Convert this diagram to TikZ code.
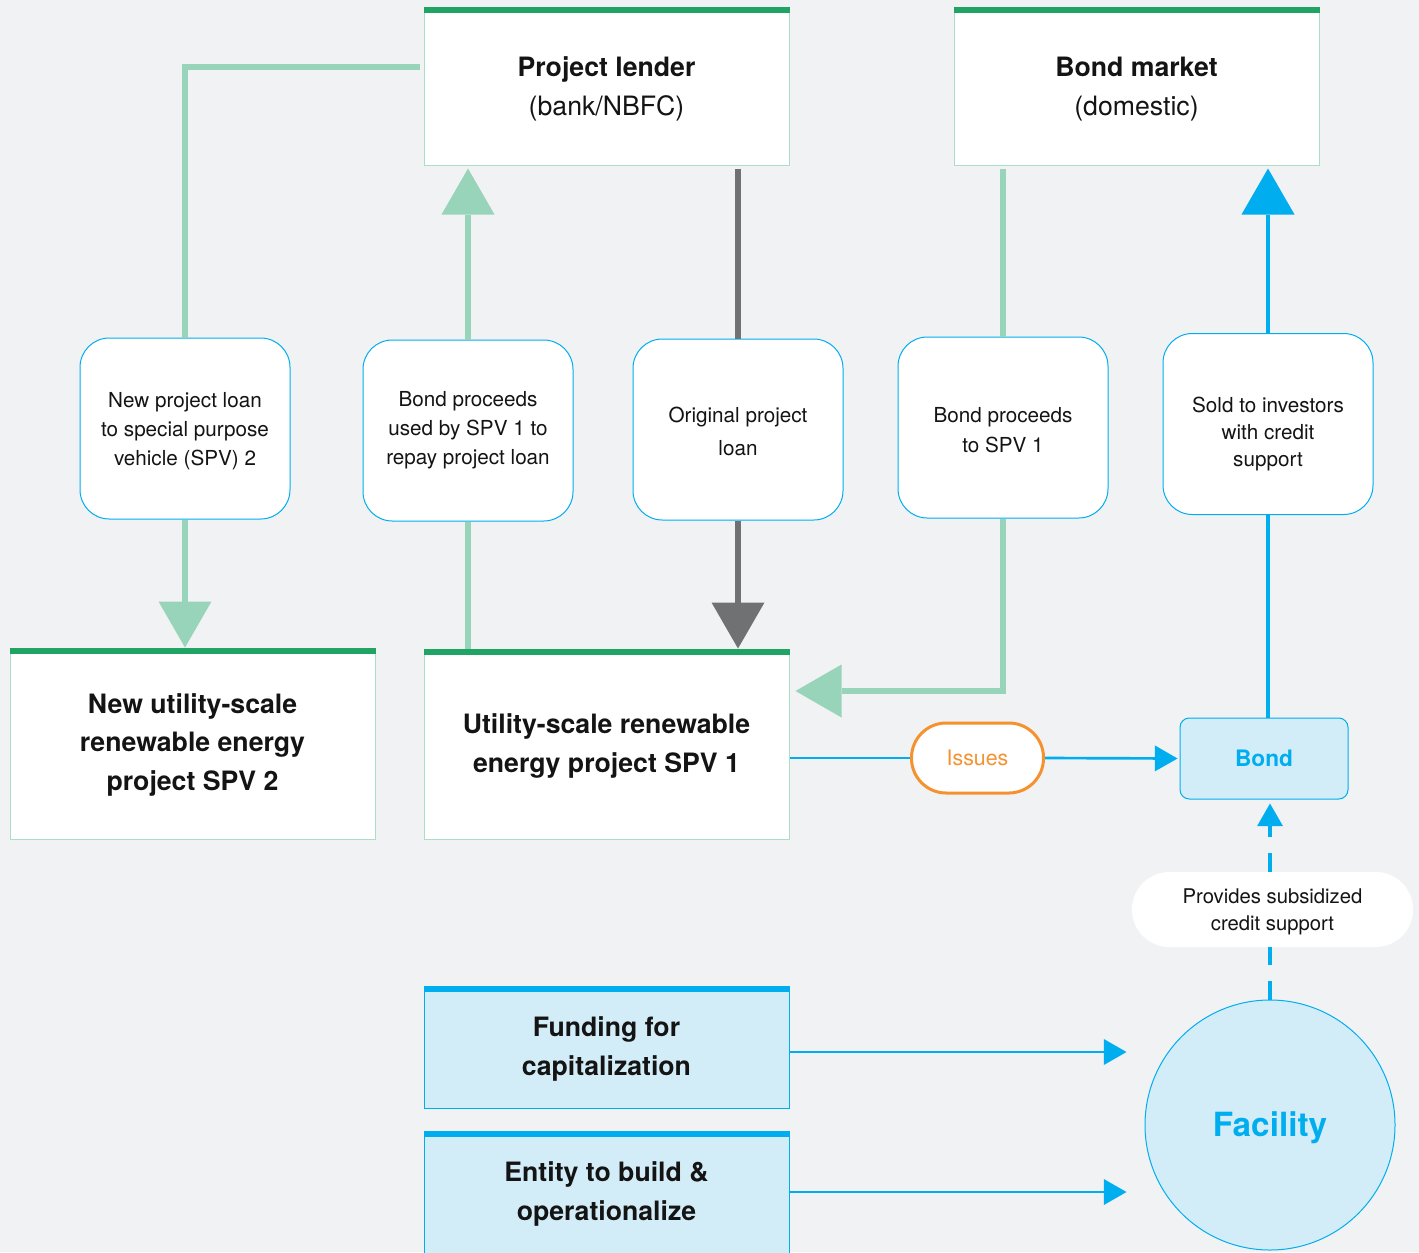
\documentclass[tikz,border=0pt]{standalone}
\usepackage{fontspec}
\setmainfont{TeX Gyre Heros}
\usetikzlibrary{arrows.meta}
\definecolor{bgcol}{RGB}{241,242,244}
\definecolor{darkgreen}{RGB}{31,164,99}
\definecolor{paleline}{RGB}{152,212,186}
\definecolor{paleedge}{RGB}{170,222,198}
\definecolor{flowblue}{RGB}{0,174,239}
\definecolor{iceblue}{RGB}{211,237,248}
\definecolor{loangray}{RGB}{112,113,114}
\definecolor{issueorange}{RGB}{245,146,47}
\definecolor{inktext}{RGB}{20,20,20}
\begin{document}
\begin{tikzpicture}[x=0.75pt, y=-0.75pt,
  every node/.style={text=inktext, align=center, inner sep=0pt},
  party/.style={draw=paleedge, line width=0.75pt, fill=white, minimum width=273.75pt, font=\fontsize{20}{29}\selectfont},
  fundbox/.style={draw=flowblue, line width=0.75pt, fill=iceblue, minimum width=273.75pt, minimum height=91.5pt, font=\fontsize{20}{29}\selectfont\bfseries},
  flowlabel/.style={draw=flowblue, line width=0.75pt, fill=white, rounded corners=22pt, minimum width=157.5pt, minimum height=135.75pt, font=\fontsize{15.5}{21.75}\selectfont},
  paleflow/.style={draw=paleline, line width=4.5pt},
  grayflow/.style={draw=loangray, line width=4.5pt},
  blueflow/.style={draw=flowblue, line width=3pt},
  thinflow/.style={draw=flowblue, line width=2pt},
  creditdash/.style={dash pattern=on 14pt off 12pt},
  bigtip/.style={-{Triangle[length=34.5pt, width=39.75pt, line width=0pt]}},
  smalltip/.style={-{Triangle[length=17pt, width=19.5pt, line width=0pt]}},
  topbar/.style={line width=4.5pt}
]
\useasboundingbox[fill=bgcol] (0,0) rectangle (1419,1252);

% parties
\node[party, minimum height=117.75pt] (lender) at (606.5,86.5) {\rule{0pt}{18pt}\textbf{Project lender}\\(bank/NBFC)};
\node[party, minimum height=117.75pt] (bondmkt) at (1136.5,86.5) {\rule{0pt}{18pt}\textbf{Bond market}\\(domestic)};
\node[party, minimum height=143.25pt, font=\fontsize{20}{29}\selectfont\bfseries] (spv2) at (192.5,743.5) {\rule{0pt}{17pt}New utility-scale\\renewable energy\\project SPV 2};
\node[party, minimum height=142.5pt, font=\fontsize{20}{29}\selectfont\bfseries] (spv1) at (606.5,744) {\rule{0pt}{18pt}Utility-scale renewable\\energy project SPV 1};
\foreach \n in {lender,bondmkt,spv2,spv1}
  \draw[darkgreen, topbar] ([yshift=-2.25pt]\n.north west) -- ([yshift=-2.25pt]\n.north east);

% flow labels
\node[flowlabel] (newloan) at (185,428.5) {\rule{0pt}{15pt}New project loan\\to special purpose\\vehicle (SPV) 2};
\node[flowlabel] (repayloan) at (468,430.5) {Bond proceeds\\used by SPV 1 to\\repay project loan};
\node[flowlabel, font=\fontsize{15.5}{24.75}\selectfont] (origloan) at (738,429.5) {\rule{0pt}{15pt}Original project\\loan};
\node[flowlabel, font=\fontsize{15.5}{22.5}\selectfont] (proceeds) at (1003,427.5) {\rule{0pt}{15pt}Bond proceeds\\to SPV 1};
\node[flowlabel, font=\fontsize{15.5}{20.25}\selectfont] (sold) at (1268,424) {\rule{0pt}{27pt}Sold to investors\\with credit\\support};

% bond and facility
\node[draw=issueorange, line width=2.25pt, fill=white, rounded corners=26pt, minimum width=99pt, minimum height=52.5pt, text=issueorange, font=\fontsize{16}{19}\selectfont] (issues) at (977.5,758) {Issues};
\node[draw=flowblue, line width=0.75pt, fill=iceblue, rounded corners=7pt, minimum width=126pt, minimum height=60.75pt, text=flowblue, font=\fontsize{17}{20}\selectfont\bfseries] (bond) at (1264,758.5) {Bond};
\node[fill=white, rounded corners=28pt, minimum width=210.75pt, minimum height=56.25pt, font=\fontsize{15.2}{20.25}\selectfont] (subsidy) at (1272.5,909.5) {\rule{0pt}{14pt}Provides subsidized\\credit support};
\node[circle, draw=flowblue, line width=0.75pt, fill=iceblue, minimum size=187.5pt, text=flowblue, font=\fontsize{25}{30}\selectfont\bfseries] (facility) at (1270,1125) {\rule{0pt}{22pt}Facility};
\node[fundbox] (funding) at (606.5,1047) {\rule{0pt}{18pt}Funding for\\capitalization};
\node[fundbox] (entity) at (606.5,1192) {\rule{0pt}{18pt}Entity to build \&\\operationalize};
\foreach \n in {funding,entity}
  \draw[flowblue, topbar] ([yshift=-2.25pt]\n.north west) -- ([yshift=-2.25pt]\n.north east);

\coordinate (lenderfoot) at ([yshift=-2.25pt]lender.south);
\coordinate (bondfoot) at ([yshift=-2.25pt]bondmkt.south);
\coordinate (spv1in) at ([xshift=4.5pt, yshift=39.75pt]spv1.east);
\coordinate (bondbelow) at ([yshift=-3pt]bond.south);
\coordinate (facin) at ([xshift=-13.5pt]facility.west);
\coordinate (fundout) at ([yshift=-3.75pt]funding.east);

% connectors
\draw[paleflow] ([xshift=-3pt, yshift=14.6pt]lender.west) -| (newloan.north);
\draw[paleflow, bigtip] (newloan.south) -- (newloan.south |- spv2.north);
\draw[paleflow] (repayloan.south |- spv1.north) -- (repayloan.south);
\draw[paleflow, bigtip] (repayloan.north) -- (repayloan.north |- lenderfoot);
\draw[grayflow] (origloan.north |- lenderfoot) -- (origloan.north);
\draw[grayflow, bigtip] (origloan.south) -- (origloan.south |- spv1.north);
\draw[paleflow] (proceeds.north |- bondfoot) -- (proceeds.north);
\draw[paleflow, bigtip] (proceeds.south) |- (spv1in);
\draw[blueflow] (sold.south |- bond.north) -- (sold.south);
\draw[blueflow, bigtip] (sold.north) -- (sold.north |- bondfoot);
\draw[thinflow] (spv1.east |- issues.west) -- (issues.west);
\draw[thinflow, smalltip] (issues.east) -- ([xshift=-1.5pt]bond.west);
\draw[blueflow, creditdash] (facility.north) -- (facility.north |- subsidy.south);
\draw[blueflow, creditdash, smalltip] (facility.north |- subsidy.north) -- (facility.north |- bondbelow);
\draw[thinflow, smalltip] (fundout) -- (fundout -| facin);
\draw[thinflow, smalltip] (entity.east) -- (entity.east -| facin);
\end{tikzpicture}
\end{document}
